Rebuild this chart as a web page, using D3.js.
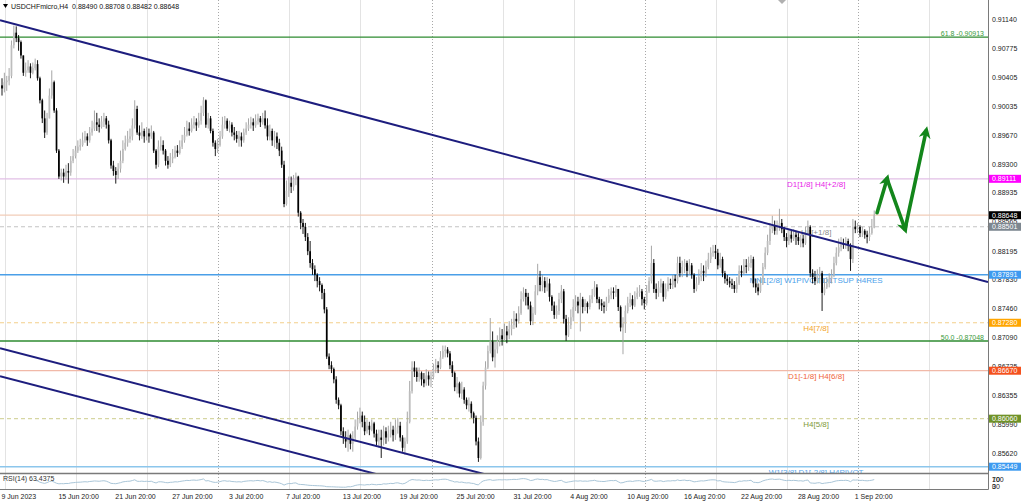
<!DOCTYPE html>
<html><head><meta charset="utf-8">
<script src="https://cdn.jsdelivr.net/npm/d3@7"></script>
<style>
body{margin:0;background:#fff}
svg{display:block}
text{font-family:"Liberation Sans",Arial,sans-serif}
</style>
</head><body>
<svg id="c" width="1024" height="501"></svg>
<script>
// ---------------- DATA ----------------
const symbol = "USDCHFmicro,H4";
const lastOHLC = ["0.88490", "0.88708", "0.88482", "0.88648"];
const firstOpen = 0.9030;
const closes = [
.9026,.9034,.9036,.9042,.9081,.9097,.9090,.9085,.9068,.9046,
.9049,.9054,.9046,.9052,.9057,.9039,.9011,.8988,.8970,.8988,
.9017,.9034,.8998,.8947,.8914,.8919,.8914,.8921,.8919,.8934,
.8940,.8947,.8952,.8954,.8960,.8965,.8960,.8970,.8975,.8983,
.8980,.8977,.8984,.8988,.8980,.8960,.8928,.8921,.8916,.8924,
.8934,.8949,.8957,.8962,.8965,.8979,.9000,.8970,.8966,.8972,
.8965,.8969,.8965,.8970,.8947,.8929,.8952,.8954,.8947,.8934,
.8929,.8937,.8939,.8947,.8944,.8952,.8960,.8967,.8975,.8972,
.8980,.8983,.8979,.8985,.8995,.9011,.8980,.8988,.8972,.8957,
.8949,.8954,.8965,.8980,.8985,.8975,.8980,.8970,.8967,.8962,
.8965,.8960,.8970,.8975,.8980,.8983,.8979,.8985,.8988,.8983,
.8988,.8979,.8965,.8972,.8960,.8965,.8957,.8947,.8929,.8879,
.8896,.8906,.8901,.8911,.8914,.8868,.8855,.8850,.8837,.8819,
.8804,.8796,.8789,.8781,.8776,.8766,.8745,.8685,.8674,.8669,
.8656,.8630,.8623,.8590,.8582,.8577,.8585,.8574,.8582,.8596,
.8605,.8610,.8602,.8590,.8597,.8592,.8600,.8587,.8577,.8582,
.8579,.8590,.8582,.8587,.8592,.8585,.8595,.8597,.8582,.8569,
.8577,.8602,.8641,.8671,.8666,.8659,.8664,.8656,.8651,.8661,
.8656,.8659,.8669,.8674,.8671,.8684,.8692,.8694,.8689,.8674,
.8664,.8646,.8651,.8638,.8643,.8630,.8623,.8625,.8613,.8607,
.8577,.8556,.8602,.8648,.8671,.8692,.8704,.8684,.8694,.8705,
.8712,.8707,.8717,.8712,.8720,.8725,.8733,.8730,.8740,.8758,
.8766,.8761,.8750,.8730,.8740,.8768,.8786,.8776,.8781,.8773,
.8778,.8761,.8750,.8738,.8743,.8758,.8768,.8733,.8712,.8725,
.8735,.8748,.8755,.8750,.8758,.8748,.8753,.8748,.8758,.8763,
.8773,.8758,.8753,.8750,.8748,.8755,.8763,.8768,.8766,.8771,
.8748,.8722,.8727,.8743,.8753,.8758,.8750,.8761,.8766,.8768,
.8758,.8753,.8768,.8781,.8804,.8771,.8766,.8773,.8778,.8761,
.8771,.8778,.8776,.8784,.8781,.8804,.8791,.8799,.8804,.8794,
.8801,.8789,.8771,.8778,.8786,.8794,.8791,.8799,.8809,.8817,
.8819,.8817,.8801,.8809,.8791,.8784,.8781,.8778,.8776,.8771,
.8778,.8794,.8791,.8801,.8799,.8804,.8809,.8778,.8773,.8768,
.8778,.8799,.8817,.8832,.8847,.8852,.8845,.8850,.8855,.8847,
.8837,.8832,.8840,.8835,.8840,.8837,.8832,.8835,.8829,.8842,
.8850,.8791,.8786,.8781,.8789,.8791,.8766,.8773,.8778,.8784,
.8789,.8804,.8817,.8824,.8829,.8827,.8832,.8827,.8809,.8850,
.8847,.8850,.8842,.8845,.8840,.8837,.8842,.8849,.88648
];
const highs = [
.9039,.9046,.9042,.9052,.9087,.9106,.9105,.9094,.9087,.9068,
.9059,.9062,.9058,.9059,.9064,.9062,.9041,.9013,.8998,.8995,
.9026,.9049,.9036,.9001,.8949,.8924,.8924,.8929,.8931,.8940,
.8949,.8953,.8960,.8962,.8970,.8972,.8969,.8977,.8985,.8998,
.8995,.8988,.8991,.8995,.8991,.8985,.8962,.8934,.8926,.8931,
.8947,.8960,.8966,.8972,.8975,.8988,.9011,.9004,.8979,.8983,
.8975,.8977,.8975,.8979,.8972,.8949,.8960,.8965,.8960,.8949,
.8940,.8944,.8949,.8953,.8954,.8960,.8967,.8977,.8985,.8983,
.8988,.8991,.8988,.8995,.9004,.9015,.9012,.8995,.8991,.8975,
.8960,.8962,.8972,.8990,.8991,.8988,.8985,.8983,.8977,.8972,
.8972,.8970,.8975,.8983,.8988,.8990,.8988,.8993,.8994,.8991,
.8995,.8998,.8988,.8980,.8975,.8972,.8970,.8962,.8952,.8934,
.8909,.8914,.8914,.8916,.8919,.8915,.8870,.8860,.8855,.8842,
.8832,.8809,.8801,.8791,.8786,.8778,.8771,.8748,.8689,.8679,
.8671,.8660,.8633,.8625,.8595,.8590,.8592,.8587,.8590,.8605,
.8615,.8620,.8615,.8610,.8605,.8602,.8605,.8602,.8592,.8592,
.8592,.8597,.8595,.8597,.8602,.8597,.8605,.8607,.8602,.8585,
.8582,.8615,.8654,.8679,.8679,.8671,.8671,.8666,.8664,.8669,
.8666,.8666,.8676,.8682,.8679,.8692,.8699,.8699,.8697,.8692,
.8679,.8666,.8659,.8653,.8653,.8646,.8633,.8633,.8628,.8615,
.8610,.8582,.8610,.8653,.8679,.8699,.8734,.8717,.8705,.8712,
.8722,.8720,.8727,.8724,.8730,.8733,.8743,.8740,.8749,.8768,
.8773,.8771,.8766,.8755,.8748,.8776,.8803,.8794,.8789,.8786,
.8786,.8784,.8763,.8755,.8750,.8766,.8776,.8771,.8738,.8735,
.8745,.8758,.8763,.8761,.8766,.8761,.8758,.8755,.8763,.8771,
.8781,.8777,.8761,.8758,.8755,.8761,.8771,.8773,.8773,.8776,
.8771,.8750,.8735,.8750,.8761,.8766,.8763,.8768,.8773,.8776,
.8771,.8761,.8776,.8786,.8826,.8809,.8778,.8781,.8784,.8781,
.8778,.8786,.8784,.8789,.8789,.8812,.8812,.8807,.8809,.8807,
.8809,.8804,.8791,.8786,.8796,.8804,.8801,.8807,.8817,.8824,
.8827,.8827,.8822,.8817,.8812,.8794,.8789,.8786,.8784,.8781,
.8786,.8801,.8801,.8809,.8809,.8812,.8814,.8812,.8784,.8778,
.8786,.8804,.8824,.8840,.8855,.8864,.8858,.8858,.8873,.8860,
.8850,.8842,.8847,.8845,.8847,.8845,.8842,.8840,.8840,.8850,
.8858,.8852,.8796,.8794,.8796,.8799,.8794,.8784,.8786,.8791,
.8796,.8812,.8824,.8835,.8837,.8835,.8837,.8835,.8829,.8860,
.8858,.8855,.8852,.8850,.8847,.8845,.8850,.8860,.88708
];
const lows = [
.9017,.9021,.9023,.9030,.9039,.9077,.9085,.9074,.9064,.9042,
.9041,.9046,.9039,.9044,.9049,.9036,.9007,.8982,.8963,.8967,
.8988,.9013,.8995,.8944,.8911,.8909,.8906,.8910,.8905,.8915,
.8931,.8937,.8944,.8947,.8952,.8957,.8953,.8957,.8966,.8972,
.8972,.8970,.8975,.8977,.8975,.8956,.8924,.8915,.8905,.8911,
.8919,.8931,.8947,.8952,.8957,.8960,.8975,.8967,.8960,.8962,
.8957,.8960,.8957,.8962,.8944,.8924,.8926,.8947,.8942,.8928,
.8924,.8926,.8931,.8937,.8939,.8942,.8949,.8957,.8965,.8966,
.8970,.8975,.8972,.8976,.8980,.8991,.8976,.8975,.8969,.8952,
.8940,.8944,.8952,.8962,.8975,.8972,.8970,.8965,.8960,.8957,
.8952,.8952,.8957,.8967,.8972,.8975,.8972,.8976,.8980,.8977,
.8980,.8975,.8960,.8960,.8953,.8951,.8949,.8940,.8925,.8875,
.8877,.8888,.8893,.8896,.8903,.8863,.8847,.8841,.8832,.8814,
.8798,.8789,.8781,.8773,.8768,.8758,.8740,.8682,.8669,.8664,
.8651,.8625,.8618,.8585,.8574,.8569,.8564,.8567,.8564,.8577,
.8592,.8600,.8595,.8585,.8587,.8585,.8590,.8582,.8572,.8569,
.8556,.8572,.8574,.8577,.8582,.8577,.8579,.8587,.8577,.8564,
.8560,.8574,.8600,.8638,.8659,.8653,.8653,.8648,.8646,.8648,
.8648,.8646,.8656,.8664,.8664,.8669,.8682,.8684,.8684,.8669,
.8659,.8641,.8638,.8633,.8631,.8625,.8618,.8615,.8607,.8600,
.8572,.8551,.8554,.8597,.8643,.8669,.8689,.8679,.8671,.8689,
.8698,.8699,.8705,.8702,.8707,.8712,.8720,.8722,.8727,.8738,
.8755,.8750,.8745,.8725,.8725,.8738,.8763,.8768,.8768,.8766,
.8768,.8755,.8743,.8733,.8733,.8738,.8753,.8727,.8705,.8710,
.8720,.8730,.8743,.8740,.8717,.8740,.8743,.8740,.8745,.8753,
.8761,.8753,.8745,.8743,.8740,.8743,.8753,.8758,.8758,.8761,
.8743,.8717,.8688,.8715,.8740,.8748,.8745,.8748,.8758,.8761,
.8750,.8745,.8750,.8766,.8778,.8766,.8758,.8761,.8766,.8755,
.8758,.8768,.8771,.8771,.8773,.8778,.8786,.8786,.8791,.8786,
.8789,.8784,.8766,.8768,.8776,.8781,.8781,.8786,.8796,.8804,
.8812,.8809,.8796,.8798,.8786,.8778,.8776,.8773,.8771,.8766,
.8766,.8776,.8786,.8789,.8791,.8794,.8798,.8773,.8766,.8763,
.8766,.8776,.8796,.8814,.8827,.8842,.8840,.8840,.8845,.8842,
.8832,.8824,.8827,.8830,.8832,.8827,.8827,.8824,.8824,.8827,
.8840,.8786,.8778,.8776,.8778,.8778,.8743,.8763,.8771,.8773,
.8778,.8786,.8801,.8812,.8819,.8822,.8822,.8819,.8794,.8804,
.8842,.8842,.8837,.8837,.8835,.8829,.8832,.8840,.88482
];
const timeLabels = ["9 Jun 2023","15 Jun 20:00","21 Jun 20:00","27 Jun 20:00","3 Jul 20:00","7 Jul 20:00",
  "13 Jul 20:00","19 Jul 20:00","25 Jul 20:00","31 Jul 20:00","4 Aug 20:00","10 Aug 20:00",
  "16 Aug 20:00","22 Aug 20:00","28 Aug 20:00","1 Sep 20:00"];
const timeLabelBars = [0,24,48,72,96,120,144,168,192,216,240,264,288,312,336,360];
const priceTicks = [0.91140,0.90775,0.90405,0.90035,0.89670,0.89300,0.88935,0.88565,0.88195,
  0.87830,0.87460,0.87090,0.86725,0.86355,0.85990,0.85620];
const levelPrices = [0.89111,0.88648,0.88501,0.87891,0.87280,0.86670,0.86060,0.85449];
const levelNames = ["D1[1/8] H4[+2/8]","","H4[+1/8]","MN1[2/8] W1PIVOT D1TSUP H4RES","H4[7/8]",
  "D1[-1/8] H4[6/8]","H4[5/8]","W1[3/8] D1[-2/8] H4PIVOT"];
const fibRatios = ["61.8","50.0"];
const fibPrices = [0.90913,0.87048];
// trend lines: [bar, price] endpoints
const trendLines = [
  [[-0.84,0.91127],[416,0.87797]],
  [[-0.84,0.86956],[416,0.83691]],
  [[-0.84,0.86599],[416,0.83334]]
];
// forecast arrow: [bar, price]
const arrowPts = [[369.2,0.8868],[373.4,0.8911],[381,0.8847],[389.9,0.8972]];
const rsiLabel = "RSI(14) 63.4375";
const rsiTicks = [100,70,30,0];

// ---------------- STYLES ----------------
const levelStyle = [
  {line:"#e2bfe6",dash:null,box:"#ff00ff",txt:"#e81ce8"},
  {line:"#f2cdb8",dash:null,box:"#000000",txt:"#000"},
  {line:"#c4c4c4",dash:"4,3",box:"#7d8790",txt:"#8a8a8a"},
  {line:"#4a9fe8",dash:null,box:"#3d9af0",txt:"#4aa0ea",w:1.5},
  {line:"#f3cf8a",dash:"4,3",box:"#ffa500",txt:"#f2a42c"},
  {line:"#f1b9a8",dash:null,box:"#f4511e",txt:"#f0653c"},
  {line:"#d6d6a2",dash:"4,3",box:"#6f9228",txt:"#7f9a3a"},
  {line:"#8cc6ec",dash:null,box:"#3d9af0",txt:"#5aa6ea",w:1.5}
];
const labelCenterBar = 343.5;

// ---------------- DRAW ----------------
const N = closes.length;
const opens = closes.map((c,i)=> i===0 ? firstOpen : closes[i-1]);
const PR = 988, MB = 473, RT = 474, RB = 489;
const svg = d3.select("#c");
const x = d3.scaleLinear().domain([0,416]).range([2,988]);
const y = d3.scaleLinear().domain([0.85369,0.913855]).range([MB,0]);
const ry = d3.scaleLinear().domain([0,100]).range([RB-1,RT+1]);

svg.append("rect").attr("width",1024).attr("height",501).attr("fill","#fff");
const defs = svg.append("defs");
defs.append("clipPath").attr("id","mainClip").append("rect").attr("x",0).attr("y",0).attr("width",PR).attr("height",MB);
defs.append("clipPath").attr("id","rsiClip").append("rect").attr("x",0).attr("y",RT).attr("width",PR).attr("height",RB-RT);
defs.append("marker").attr("id","ah").attr("viewBox","0 0 10 10").attr("refX",6).attr("refY",5)
  .attr("markerWidth",13).attr("markerHeight",12).attr("markerUnits","userSpaceOnUse").attr("orient","auto")
  .append("path").attr("d","M0,0 L10,5 L0,10 L3,5 Z").attr("fill","#13861b");

// grid
const gridBars = d3.range(14).map(k=>1.25+30*k);
svg.append("g").selectAll("line").data(gridBars).join("line")
  .attr("x1",d=>Math.round(x(d))+0.5).attr("x2",d=>Math.round(x(d))+0.5)
  .attr("y1",0).attr("y2",RB)
  .attr("stroke",(d,i)=> (i%3===0 && i>0) ? "#a8a8a8" : "#e3e3e3")
  .attr("stroke-dasharray",(d,i)=> (i%3===0 && i>0) ? "1,2" : null)
  .attr("stroke-width",1);

const main = svg.append("g").attr("clip-path","url(#mainClip)");

// levels
levelPrices.forEach((p,i)=>{
  const s = levelStyle[i];
  main.append("line").attr("x1",0).attr("x2",PR).attr("y1",y(p)).attr("y2",y(p))
    .attr("stroke",s.line).attr("stroke-width",s.w||1.2).attr("stroke-dasharray",s.dash);
  if(levelNames[i]) main.append("text").attr("x",x(labelCenterBar)).attr("y",y(p)+8)
    .attr("text-anchor","middle").attr("font-size",8).attr("fill",s.txt).text(levelNames[i]);
});
fibPrices.forEach((p,i)=>{
  main.append("line").attr("x1",0).attr("x2",PR).attr("y1",y(p)).attr("y2",y(p))
    .attr("stroke","#2e8b30").attr("stroke-width",1.4);
  main.append("text").attr("x",PR-4).attr("y",y(p)-1.5).attr("text-anchor","end")
    .attr("font-size",7).attr("fill","#3a9a3c").text(fibRatios[i]+" -"+p.toFixed(5));
});

// candles
const idx = d3.range(N);
const cg = main.append("g");
cg.selectAll("line").data(idx).join("line")
  .attr("x1",i=>x(i)).attr("x2",i=>x(i))
  .attr("y1",i=>y(highs[i])).attr("y2",i=>y(lows[i]))
  .attr("stroke",i=> closes[i]>=opens[i] ? "#9c9c9c" : "#000").attr("stroke-width",0.9);
cg.selectAll("rect").data(idx).join("rect")
  .attr("x",i=>x(i)-0.85).attr("width",1.7)
  .attr("y",i=>Math.min(y(opens[i]),y(closes[i])))
  .attr("height",i=>Math.max(1,Math.abs(y(opens[i])-y(closes[i]))))
  .attr("fill",i=> closes[i]>=opens[i] ? "#bdbdbd" : "#000");

// trend lines
main.append("g").selectAll("line").data(trendLines).join("line")
  .attr("x1",d=>x(d[0][0])).attr("y1",d=>y(d[0][1]))
  .attr("x2",d=>x(d[1][0])).attr("y2",d=>y(d[1][1]))
  .attr("stroke","#1d1d7e").attr("stroke-width",2);

// arrow
const ag = svg.append("g");
for(let k=0;k<arrowPts.length-1;k++){
  ag.append("line").attr("x1",x(arrowPts[k][0])).attr("y1",y(arrowPts[k][1]))
    .attr("x2",x(arrowPts[k+1][0])).attr("y2",y(arrowPts[k+1][1]))
    .attr("stroke","#13861b").attr("stroke-width",3.6).attr("stroke-linecap","round")
    .attr("marker-end","url(#ah)");
}

// RSI
const rsi=[]; let avgG=0, avgL=0;
for(let i=1;i<N;i++){
  const ch=closes[i]-closes[i-1], g=Math.max(ch,0), l=Math.max(-ch,0);
  if(i<=14){avgG+=g/14; avgL+=l/14; if(i===14) rsi.push([i, avgL===0?100:100-100/(1+avgG/avgL)]);}
  else {avgG=(avgG*13+g)/14; avgL=(avgL*13+l)/14; rsi.push([i, avgL===0?100:100-100/(1+avgG/avgL)]);}
}
svg.append("g").attr("clip-path","url(#rsiClip)").append("path")
  .attr("d",d3.line().x(d=>x(d[0])).y(d=>ry(d[1]))(rsi))
  .attr("fill","none").attr("stroke","#aac6d8").attr("stroke-width",1);
svg.append("text").attr("x",3).attr("y",481).attr("font-size",7).attr("fill","#333").text(rsiLabel);

// frame
svg.append("line").attr("x1",0).attr("x2",PR+0.5).attr("y1",MB+0.5).attr("y2",MB+0.5).attr("stroke","#7a7a7a").attr("stroke-width",1.5);
svg.append("line").attr("x1",0).attr("x2",PR+0.5).attr("y1",RB+0.5).attr("y2",RB+0.5).attr("stroke","#7a7a7a");
svg.append("line").attr("x1",PR+0.5).attr("x2",PR+0.5).attr("y1",0).attr("y2",RB+0.5).attr("stroke","#7a7a7a");
svg.append("path").attr("d","M778,0 L786,0 L782,4 Z").attr("fill","#b0b0b0");

// price axis
const ax = svg.append("g").attr("transform",`translate(${PR+4},0)`)
  .call(d3.axisRight(y).tickValues(priceTicks).tickSize(0).tickFormat(d3.format(".5f")));
ax.select(".domain").remove();
ax.selectAll("text").attr("x",0).attr("font-size",7).attr("fill","#222")
  .attr("font-family","'Liberation Sans',Arial,sans-serif");

// RSI axis labels
rsiTicks.forEach(v=>{
  svg.append("text").attr("x",PR+4).attr("y", v>=50 ? 481.5 : 488.5)
    .attr("font-size",7).attr("fill","#222").text(v);
});

// level boxes
levelPrices.forEach((p,i)=>{
  const g = svg.append("g");
  g.append("rect").attr("x",PR+1).attr("y",y(p)-4).attr("width",32).attr("height",8).attr("fill",levelStyle[i].box);
  g.append("text").attr("x",PR+4).attr("y",y(p)+2.6).attr("font-size",7).attr("fill","#fff").text(p.toFixed(5));
});

// time axis
const tx = svg.append("g").attr("transform",`translate(0,${RB})`)
  .call(d3.axisBottom(x).tickValues(timeLabelBars).tickSize(0).tickFormat((d,i)=>timeLabels[i]));
tx.select(".domain").remove();
tx.selectAll("text").attr("text-anchor","start").attr("dx",-1).attr("y",10).attr("dy",0)
  .attr("font-size",7).attr("fill","#222").attr("font-family","'Liberation Sans',Arial,sans-serif");

// title
svg.append("path").attr("d","M3,4 L8,4 L5.5,8 Z").attr("fill","#000");
svg.append("text").attr("x",11).attr("y",9).attr("font-size",7).attr("fill","#111")
  .attr("xml:space","preserve").text(symbol+"  "+lastOHLC.join(" "));
</script>
</body></html>
